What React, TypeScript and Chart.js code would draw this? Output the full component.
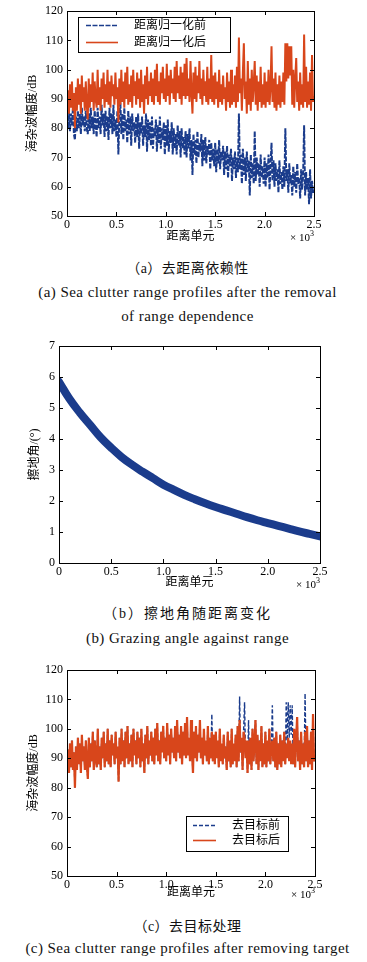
import React, { useEffect, useRef } from 'react';
import { Chart, registerables } from 'chart.js';

Chart.register(...registerables);

// sample spacing along the range axis (in units of 10^3 range cells)
const CELL_STEP = 0.01;
const GRAZING_STEP = 0.1;

const xTickValues = [0, 0.5, 1.0, 1.5, 2.0, 2.5];

// (a) before range normalisation (dB)
const rangeBefore = [
  84, 80, 86, 79, 85, 81, 87, 78, 76, 84,
  79, 86, 80, 85, 78, 87, 81, 84, 79, 86,
  80, 78, 85, 79, 87, 80, 84, 78, 86, 81,
  77, 87, 80, 84, 78, 88, 81, 85, 77, 86,
  79, 84, 76, 87, 80, 85, 78, 88, 79, 83,
  77, 86, 71, 84, 89, 78, 85, 76, 87, 79,
  83, 75, 86, 78, 84, 74, 85, 79, 82, 75,
  84, 77, 85, 73, 82, 78, 84, 74, 81, 77,
  85, 72, 83, 76, 82, 74, 84, 73, 80, 77,
  83, 72, 81, 75, 84, 73, 80, 76, 82, 71,
  81, 74, 83, 72, 79, 75, 82, 71, 80, 73,
  78, 71, 81, 74, 79, 70, 80, 73, 77, 71,
  79, 70, 78, 73, 80, 69, 76, 64, 78, 71,
  76, 68, 79, 70, 75, 72, 78, 67, 76, 69,
  77, 68, 74, 71, 76, 66, 75, 69, 73, 67,
  75, 65, 73, 68, 76, 66, 72, 69, 74, 64,
  72, 66, 74, 63, 71, 67, 73, 62, 70, 66,
  72, 63, 70, 65, 85, 66, 71, 61, 73, 64,
  70, 62, 72, 65, 69, 57, 71, 63, 68, 61,
  79, 62, 70, 64, 68, 60, 71, 63, 67, 61,
  70, 60, 68, 63, 71, 59, 67, 75, 62, 69,
  60, 68, 62, 66, 58, 69, 61, 65, 59, 67,
  60, 80, 62, 66, 58, 68, 61, 64, 57, 67,
  60, 65, 58, 68, 61, 63, 56, 66, 59, 64,
  81, 57, 65, 59, 63, 54, 66, 56, 62, 58,
  59,
];

// (a) after range normalisation (dB)
const rangeAfter = [
  88, 93, 85, 95, 87, 96, 86, 92, 80, 94,
  86, 97, 88, 95, 85, 98, 89, 94, 86, 96,
  88, 83, 97, 87, 95, 89, 99, 86, 96, 90,
  87, 100, 88, 94, 86, 97, 90, 99, 87, 95,
  89, 100, 88, 96, 87, 98, 91, 95, 88, 99,
  90, 94, 82, 97, 88, 100, 89, 96, 87, 99,
  90, 101, 88, 95, 89, 98, 87, 100, 91, 96,
  88, 99, 90, 97, 87, 100, 89, 95, 85, 98,
  90, 101, 88, 96, 91, 99, 89, 97, 88, 100,
  91, 102, 89, 96, 88, 99, 92, 101, 90, 97,
  89, 102, 91, 98, 88, 100, 92, 97, 90, 101,
  89, 103, 92, 98, 90, 101, 88, 99, 91, 102,
  90, 104, 91, 97, 89, 103, 92, 85, 99, 90,
  101, 89, 98, 92, 103, 90, 97, 88, 100, 91,
  96, 89, 101, 88, 97, 90, 105, 89, 98, 88,
  99, 90, 96, 87, 100, 89, 95, 88, 98, 90,
  94, 86, 99, 89, 96, 87, 100, 88, 95, 89,
  98, 87, 101, 89, 111, 92, 97, 86, 99, 109,
  90, 96, 85, 103, 88, 97, 86, 100, 89, 95,
  103, 88, 98, 86, 96, 89, 101, 87, 95, 88,
  99, 87, 96, 89, 100, 88, 94, 108, 89, 97,
  87, 99, 86, 95, 88, 98, 87, 96, 89, 99,
  88, 109, 96, 109, 97, 108, 98, 108, 88, 100,
  87, 97, 104, 89, 96, 86, 99, 88, 95, 87,
  112, 89, 101, 87, 96, 88, 99, 86, 105, 89,
  91,
];

// (b) grazing angle (degrees)
const grazingAngle = [
  5.85, 5.3, 4.85, 4.45, 4.05, 3.72, 3.42, 3.17, 2.95, 2.74,
  2.53, 2.36, 2.2, 2.06, 1.93, 1.81, 1.7, 1.59, 1.48, 1.38,
  1.29, 1.2, 1.11, 1.02, 0.94, 0.86,
];

// (c) before target removal = normalised profile
const targetBefore = rangeAfter;

// (c) after target removal (dB)
const targetAfter = [
  88, 93, 85, 95, 87, 96, 86, 92, 80, 94,
  86, 97, 88, 95, 85, 98, 89, 94, 86, 96,
  88, 83, 97, 87, 95, 89, 99, 86, 96, 90,
  87, 100, 88, 94, 86, 97, 90, 99, 87, 95,
  89, 100, 88, 96, 87, 98, 91, 95, 88, 99,
  90, 94, 82, 97, 88, 100, 89, 96, 87, 99,
  90, 101, 88, 95, 89, 98, 87, 100, 91, 96,
  88, 99, 90, 97, 87, 100, 89, 95, 85, 98,
  90, 101, 88, 96, 91, 99, 89, 97, 88, 100,
  91, 102, 89, 96, 88, 99, 92, 101, 90, 97,
  89, 102, 91, 98, 88, 100, 92, 97, 90, 101,
  89, 103, 92, 98, 90, 101, 88, 99, 91, 102,
  90, 104, 91, 97, 89, 103, 92, 85, 99, 90,
  101, 89, 98, 92, 103, 90, 97, 88, 100, 91,
  96, 89, 101, 88, 97, 90, 99, 89, 98, 88,
  99, 90, 96, 87, 100, 89, 95, 88, 98, 90,
  94, 86, 99, 89, 96, 87, 100, 88, 95, 89,
  98, 87, 101, 89, 103, 92, 97, 86, 99, 97,
  90, 96, 85, 96, 88, 97, 86, 100, 89, 95,
  103, 88, 98, 86, 96, 89, 101, 87, 95, 88,
  99, 87, 96, 89, 100, 88, 94, 96, 89, 97,
  87, 99, 86, 95, 88, 98, 87, 96, 89, 99,
  88, 95, 90, 97, 89, 96, 88, 95, 88, 100,
  87, 97, 104, 89, 96, 86, 99, 88, 95, 87,
  99, 89, 101, 87, 96, 88, 99, 86, 105, 89,
  91,
];

const BLUE = '#1b3c8c';
const ORANGE = '#d8461b';
const FONT = '"Liberation Serif", "Noto Sans CJK SC", serif';
const W = 367;

const toPoints = (arr: number[], step: number) => arr.map((v, i) => ({ x: i * step, y: v }));

type LegendOpts = {
  dx: number; dy: number; w: number; h: number;
  line0: number; line1: number; text: number; rows: number[];
};
type FrameOpts = {
  yTitle: string; xTitle: string; yTitleDx: number; xTitleDy: number; expDy: number;
  legend?: LegendOpts;
};

const framePlugin = {
  id: 'frame',
  afterDraw(chart: any, _args: any, opts: FrameOpts) {
    const { ctx, chartArea: a, scales } = chart;
    const L = Math.round(a.left), R = Math.round(a.right), T = Math.round(a.top), B = Math.round(a.bottom);
    ctx.save();
    ctx.strokeStyle = '#000';
    ctx.lineWidth = 1;
    ctx.setLineDash([]);
    ctx.strokeRect(L + 0.5, T + 0.5, R - L, B - T);
    const tl = 4;
    ctx.beginPath();
    scales.x.ticks.forEach((t: any) => {
      const px = Math.round(scales.x.getPixelForValue(t.value)) + 0.5;
      ctx.moveTo(px, B); ctx.lineTo(px, B - tl);
      ctx.moveTo(px, T); ctx.lineTo(px, T + tl);
    });
    scales.y.ticks.forEach((t: any) => {
      const py = Math.round(scales.y.getPixelForValue(t.value)) + 0.5;
      ctx.moveTo(L, py); ctx.lineTo(L + tl, py);
      ctx.moveTo(R, py); ctx.lineTo(R - tl, py);
    });
    ctx.stroke();

    ctx.fillStyle = '#000';
    // y title
    ctx.save();
    ctx.translate(L - opts.yTitleDx, (T + B) / 2);
    ctx.rotate(-Math.PI / 2);
    ctx.font = `12px ${FONT}`;
    ctx.textAlign = 'center';
    ctx.textBaseline = 'middle';
    ctx.fillText(opts.yTitle, 0, 0);
    ctx.restore();
    // x title
    ctx.font = `12px ${FONT}`;
    ctx.textAlign = 'center';
    ctx.textBaseline = 'middle';
    ctx.fillText(opts.xTitle, (L + R) / 2, B + opts.xTitleDy);
    // exponent
    ctx.font = `11px ${FONT}`;
    const w1 = ctx.measureText('× 10').width;
    ctx.font = `8px ${FONT}`;
    const w2 = ctx.measureText('3').width;
    ctx.textAlign = 'left';
    ctx.font = `11px ${FONT}`;
    ctx.fillText('× 10', R - w1 - w2, B + opts.expDy);
    ctx.font = `8px ${FONT}`;
    ctx.fillText('3', R - w2, B + opts.expDy - 4);

    // legend
    const lg = opts.legend;
    if (lg) {
      const x0 = L + lg.dx, y0 = T + lg.dy;
      ctx.fillStyle = '#fff';
      ctx.fillRect(x0, y0, lg.w, lg.h);
      ctx.strokeStyle = '#000';
      ctx.strokeRect(x0 + 0.5, y0 + 0.5, lg.w, lg.h);
      chart.data.datasets.forEach((ds: any, i: number) => {
        const ry = y0 + lg.rows[i];
        ctx.save();
        ctx.strokeStyle = ds.borderColor;
        ctx.lineWidth = 1.6;
        ctx.setLineDash(ds.borderDash || []);
        ctx.beginPath();
        ctx.moveTo(x0 + lg.line0, ry + 0.5);
        ctx.lineTo(x0 + lg.line1, ry + 0.5);
        ctx.stroke();
        ctx.restore();
        ctx.fillStyle = '#000';
        ctx.font = `12px ${FONT}`;
        ctx.textAlign = 'left';
        ctx.textBaseline = 'middle';
        ctx.fillText(ds.label, x0 + lg.text, ry + 1);
      });
    }
    ctx.restore();
  },
};

function makeConfig(p: {
  datasets: any[]; yMin: number; yMax: number; yStep: number;
  pad: { left: number; right: number; top: number; bottom: number };
  yAxisW: number; xAxisH: number; frame: FrameOpts;
}): any {
  const tickFont = { family: FONT, size: 12 };
  return {
    type: 'line',
    data: { datasets: p.datasets },
    plugins: [framePlugin],
    options: {
      animation: false,
      responsive: false,
      events: [],
      layout: { padding: p.pad },
      elements: { point: { radius: 0 }, line: { tension: 0, borderJoinStyle: 'bevel' } },
      scales: {
        x: {
          type: 'linear', min: 0, max: 2.5,
          afterBuildTicks: (s: any) => { s.ticks = xTickValues.map((v) => ({ value: v })); },
          ticks: {
            font: tickFont, color: '#000', padding: 2, maxRotation: 0, autoSkip: false,
            callback: (v: number) => (v === 0 ? '0' : Number(v).toFixed(1)),
          },
          grid: { display: false, drawTicks: false, tickLength: 0 },
          border: { display: false },
          afterFit: (s: any) => { s.height = p.xAxisH; },
        },
        y: {
          type: 'linear', min: p.yMin, max: p.yMax,
          ticks: { font: tickFont, color: '#000', padding: 4, stepSize: p.yStep },
          grid: { display: false, drawTicks: false, tickLength: 0 },
          border: { display: false },
          afterFit: (s: any) => { s.width = p.yAxisW; },
        },
      },
      plugins: {
        legend: { display: false },
        tooltip: { enabled: false },
        frame: p.frame,
      },
    },
  };
}

function ChartCanvas({ top, height, config }: { top: number; height: number; config: any }) {
  const ref = useRef<HTMLCanvasElement>(null);
  useEffect(() => {
    const chart = new Chart(ref.current as HTMLCanvasElement, config);
    return () => chart.destroy();
  }, []);
  return (
    <canvas
      ref={ref}
      width={W}
      height={height}
      style={{ position: 'absolute', left: 0, top, width: W, height, display: 'block' }}
    />
  );
}

const configA = makeConfig({
  datasets: [
    {
      label: '距离归一化前', data: toPoints(rangeBefore, CELL_STEP), borderColor: BLUE,
      borderWidth: 2, borderDash: [5, 1.5], order: 1,
    },
    {
      label: '距离归一化后', data: toPoints(rangeAfter, CELL_STEP), borderColor: ORANGE,
      borderWidth: 2, order: 0,
    },
  ],
  yMin: 50, yMax: 120, yStep: 10,
  pad: { left: 27, right: 53, top: 10, bottom: 14 },
  yAxisW: 40, xAxisH: 20,
  frame: {
    yTitle: '海杂波幅度/dB', xTitle: '距离单元', yTitleDx: 34, xTitleDy: 21, expDy: 22,
    legend: { dx: 11, dy: 6, w: 152, h: 35, line0: 8, line1: 40, text: 56, rows: [8, 25] },
  },
});

const configB = makeConfig({
  datasets: [
    {
      label: '擦地角', data: toPoints(grazingAngle, GRAZING_STEP), borderColor: BLUE,
      borderWidth: 8, tension: 0.4, borderCapStyle: 'round',
    },
  ],
  yMin: 0, yMax: 7, yStep: 1,
  pad: { left: 27, right: 47, top: 11, bottom: 12 },
  yAxisW: 32, xAxisH: 20,
  frame: { yTitle: '擦地角/(°)', xTitle: '距离单元', yTitleDx: 24, xTitleDy: 20, expDy: 22 },
});

const configC = makeConfig({
  datasets: [
    {
      label: '去目标前', data: toPoints(targetBefore, CELL_STEP), borderColor: BLUE,
      borderWidth: 1.4, borderDash: [4, 2], order: 1,
    },
    {
      label: '去目标后', data: toPoints(targetAfter, CELL_STEP), borderColor: ORANGE,
      borderWidth: 2.2, order: 0,
    },
  ],
  yMin: 50, yMax: 120, yStep: 10,
  pad: { left: 27, right: 52, top: 15, bottom: 9 },
  yAxisW: 40, xAxisH: 20,
  frame: {
    yTitle: '海杂波幅度/dB', xTitle: '距离单元', yTitleDx: 33, xTitleDy: 17, expDy: 19,
    legend: { dx: 119, dy: 146, w: 102, h: 35, line0: 7, line1: 30, text: 46, rows: [9, 24] },
  },
});

const captionStyle = (top: number, spacing = 0.45): React.CSSProperties => ({
  position: 'absolute',
  left: 187.5,
  top,
  transform: 'translate(-50%, -50%)',
  whiteSpace: 'nowrap',
  fontFamily: FONT,
  fontSize: 15,
  lineHeight: '17px',
  color: '#111',
  letterSpacing: spacing,
});

export default function App() {
  return (
    <div style={{ position: 'absolute', left: 0, top: 0, width: W, height: 962, background: '#fff', overflow: 'hidden' }}>
      <ChartCanvas top={0} height={250} config={configA} />
      <div style={{ ...captionStyle(268, 0.5), fontSize: 14 }}>（a）去距离依赖性</div>
      <div style={captionStyle(292)}>(a) Sea clutter range profiles after the removal</div>
      <div style={captionStyle(316)}>of range dependence</div>

      <ChartCanvas top={335} height={260} config={configB} />
      <div style={{ ...captionStyle(613, 2), fontSize: 14 }}>（b）擦地角随距离变化</div>
      <div style={captionStyle(638)}>(b) Grazing angle against range</div>

      <ChartCanvas top={655} height={250} config={configC} />
      <div style={{ ...captionStyle(926, 0.5), fontSize: 14 }}>（c）去目标处理</div>
      <div style={captionStyle(948)}>(c) Sea clutter range profiles after removing target</div>
    </div>
  );
}
